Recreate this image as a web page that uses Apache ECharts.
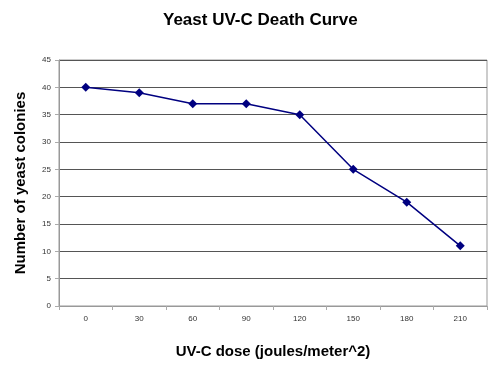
<!DOCTYPE html>
<html><head><meta charset="utf-8">
<script src="https://cdn.jsdelivr.net/npm/echarts@6/dist/echarts.min.js"></script>
<style>html,body{margin:0;padding:0;background:#fff;width:100%;height:100%;overflow:hidden}#c{width:100%;height:100%}</style>
</head><body><div id="c"></div>
<script>
const doses = ['0','30','60','90','120','150','180','210'];
const colonies = [40, 39, 37, 37, 35, 25, 19, 11];
const yTicks = {min: 0, max: 45, interval: 5};

const chart = echarts.init(document.getElementById('c'));
chart.setOption({
  animation: false,
  backgroundColor: '#fff',
  title: {
    text: 'Yeast UV-C Death Curve', left: 158, top: 7,
    textStyle: {fontFamily: 'Liberation Sans, Arial', fontWeight: 'bold', fontSize: 17, color: '#000'}
  },
  grid: {left: 59, right: 13, top: 60, bottom: 59, show: true, borderColor: '#999', borderWidth: 1},
  xAxis: {
    type: 'category', data: doses, boundaryGap: true,
    name: 'UV-C dose (joules/meter^2)', nameLocation: 'middle', nameGap: 38,
    nameTextStyle: {fontFamily: 'Liberation Sans, Arial', fontWeight: 'bold', fontSize: 15, color: '#000'},
    axisLine: {lineStyle: {color: '#999'}},
    axisTick: {show: true, length: 4, lineStyle: {color: '#aaa'}},
    axisLabel: {fontFamily: 'Liberation Sans, Arial', fontSize: 8, color: '#333', margin: 9}
  },
  yAxis: {
    type: 'value', min: yTicks.min, max: yTicks.max, interval: yTicks.interval,
    name: 'Number of yeast colonies', nameLocation: 'middle', nameGap: 31, nameRotate: 90,
    nameTextStyle: {fontFamily: 'Liberation Sans, Arial', fontWeight: 'bold', fontSize: 15, color: '#000'},
    axisLine: {show: true, lineStyle: {color: '#999'}},
    axisTick: {show: true, length: 4, lineStyle: {color: '#aaa'}},
    axisLabel: {fontFamily: 'Liberation Sans, Arial', fontSize: 8, color: '#333', margin: 8},
    splitLine: {lineStyle: {color: '#555', width: 1}}
  },
  series: [{
    type: 'line', data: colonies, symbol: 'diamond', symbolSize: 9,
    lineStyle: {color: '#000080', width: 1.5},
    itemStyle: {color: '#000080'}
  }]
});
</script></body></html>
